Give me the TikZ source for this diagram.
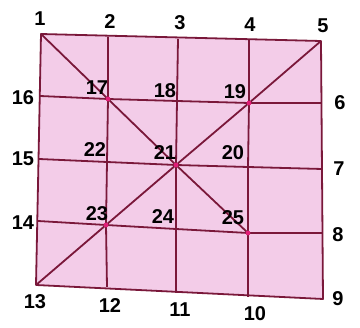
\documentclass[tikz,border=0pt]{standalone}
\usepackage{fontspec}
\setmainfont{Liberation Sans}
\usetikzlibrary{calc}

\definecolor{gridline}{RGB}{122,24,58}
\definecolor{cellpink}{RGB}{243,204,232}
\definecolor{joint}{RGB}{226,30,120}

\begin{document}
\begin{tikzpicture}[
  x=1pt,y=-1pt,
  grid/.style={gridline,line width=1.8pt,line join=round},
  lbl/.style={font=\fontsize{20}{22}\selectfont\bfseries,inner sep=0pt},
  dot/.style={joint}
]
  \useasboundingbox (0,0) rectangle (360,328);

  % Grid points (slightly skewed square).
  \coordinate (p1)  at (41,34);  \coordinate (p2)  at (108,37);
  \coordinate (p3)  at (178,39); \coordinate (p4)  at (249,40);
  \coordinate (p5)  at (321,41);
  \coordinate (p16) at (40,96);  \coordinate (p17) at (108,99);
  \coordinate (p18) at (177,101);\coordinate (p19) at (249,103);
  \coordinate (p6)  at (322,103);
  \coordinate (p15) at (39,159); \coordinate (p22) at (107,162);
  \coordinate (p21) at (176,165);\coordinate (p20) at (248,167);
  \coordinate (p7)  at (322,169);
  \coordinate (p14) at (38,221); \coordinate (p23) at (106,225);
  \coordinate (p24) at (176,229);\coordinate (p25) at (248,233);
  \coordinate (p8)  at (323,233);
  \coordinate (p13) at (36,285); \coordinate (p12) at (107,287);
  \coordinate (p11) at (176,293);\coordinate (p10) at (248,297);
  \coordinate (p9)  at (323,299);

  % Pink sheet with its border.
  \filldraw[grid,fill=cellpink] (p1) -- (p5) -- (p9) -- (p13) -- cycle;

  % Rows and columns.
  \draw[grid] (p16) -- (p17) -- (p18) -- (p19) -- (p6);
  \draw[grid] (p15) -- (p22) -- (p21) -- (p20) -- (p7);
  \draw[grid] (p14) -- (p23) -- (p24) -- (p25) -- (p8);
  \draw[grid] (p2) -- (p17) -- (p22) -- (p23) -- (p12);
  \draw[grid] (p3) -- (p18) -- (p21) -- (p24) -- (p11);
  \draw[grid] (p4) -- (p19) -- (p20) -- (p25) -- (p10);

  % Diagonals: full one from 5 to 13, short one from 1 to 25.
  \draw[grid] (p5) -- (p19) -- (p21) -- (p23) -- (p13);
  \draw[grid] (p1) -- (p17) -- (p21) -- (p25);

  % Marked crossings.
  \foreach \p in {p17,p19,p21,p23,p25}
    \fill[dot] (\p) circle (2.4pt);

  % Numbers round the edge.
  \node[lbl] (n1)  at (40,19)  {1};
  \node[lbl] (n2)  at (110,22) {2};
  \node[lbl] (n3)  at (180,23) {3};
  \node[lbl] (n4)  at (250,25) {4};
  \node[lbl] (n5)  at (323,26) {5};
  \node[lbl] (n6)  at (340,103) {6};
  \node[lbl] (n7)  at (339,169) {7};
  \node[lbl] (n8)  at (338,235) {8};
  \node[lbl] (n9)  at (338,299) {9};
  \node[lbl] (n10) at (255,314) {10};
  \node[lbl] (n11) at (180,310) {11};
  \node[lbl] (n12) at (110,306) {12};
  \node[lbl] (n13) at (35,302) {13};
  \node[lbl] (n14) at (23,223) {14};
  \node[lbl] (n15) at (23,159) {15};
  \node[lbl] (n16) at (23,98)  {16};

  % Numbers inside.
  \node[lbl] (n17) at (97,88)   {17};
  \node[lbl] (n18) at (165,91)  {18};
  \node[lbl] (n19) at (235,92)  {19};
  \node[lbl] (n20) at (233,153) {20};
  \node[lbl] (n21) at (165,153) {21};
  \node[lbl] (n22) at (95,150)  {22};
  \node[lbl] (n23) at (97,214)  {23};
  \node[lbl] (n24) at (163,217) {24};
  \node[lbl] (n25) at (233,218) {25};
\end{tikzpicture}
\end{document}
